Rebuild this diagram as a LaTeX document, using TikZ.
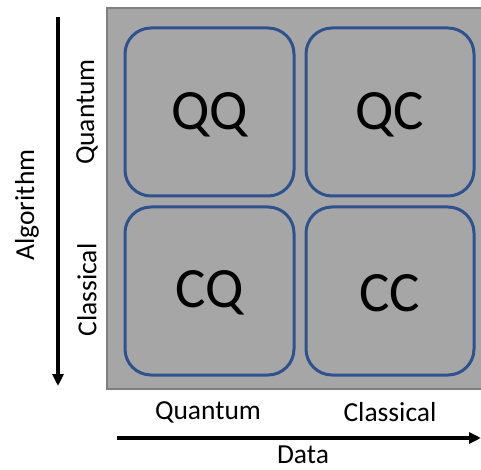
\documentclass[tikz,border=0pt]{standalone}
\usepackage{fontspec}
\setmainfont{Carlito}
\usetikzlibrary{arrows.meta}
\definecolor{bggray}{HTML}{A6A6A6}
\definecolor{edgegray}{HTML}{7F7F7F}
\definecolor{boxblue}{HTML}{2F528F}
\begin{document}
\begin{tikzpicture}[x=1pt,y=-1pt,
  cell/.style={draw=boxblue,line width=3pt,rounded corners=26pt},
  celltext/.style={font=\fontsize{57}{66}\selectfont},
  lab/.style={font=\fontsize{27.5}{32}\selectfont},
  axis/.style={line width=3.5pt,-{Triangle[length=12pt,width=11pt]}}]
\useasboundingbox (0,0) rectangle (481,470);
\fill[bggray,draw=edgegray,line width=1.2pt] (107,8) rectangle (482,389);
\draw[cell] (125,28) rectangle (294,196);
\draw[cell] (306,28) rectangle (474,196);
\draw[cell] (125,207) rectangle (294,375);
\draw[cell] (306,207) rectangle (474,375);
\node[celltext] (qq) at (209.5,115) {QQ};
\node[celltext] (qc) at (390,115) {QC};
\node[celltext] (cq) at (209.5,293) {CQ};
\node[celltext] (cc) at (390,293) {CC};
\coordinate (vs) at (58,17);
\coordinate (ve) at (58,386);
\draw[axis] (vs) -- (ve);
\coordinate (hs) at (117,438);
\coordinate (he) at (481,438);
\draw[axis] (hs) -- (he);
\node[lab] (dq) at (208,412) {Quantum};
\node[lab] (dc) at (390,412) {Classical};
\node[lab] (data) at (303,455) {Data};
\node[lab,rotate=90] (alg) at (27,205) {Algorithm};
\node[lab,rotate=90] (aq) at (87,112) {Quantum};
\node[lab,rotate=90] (ac) at (87,290) {Classical};
\end{tikzpicture}
\end{document}
